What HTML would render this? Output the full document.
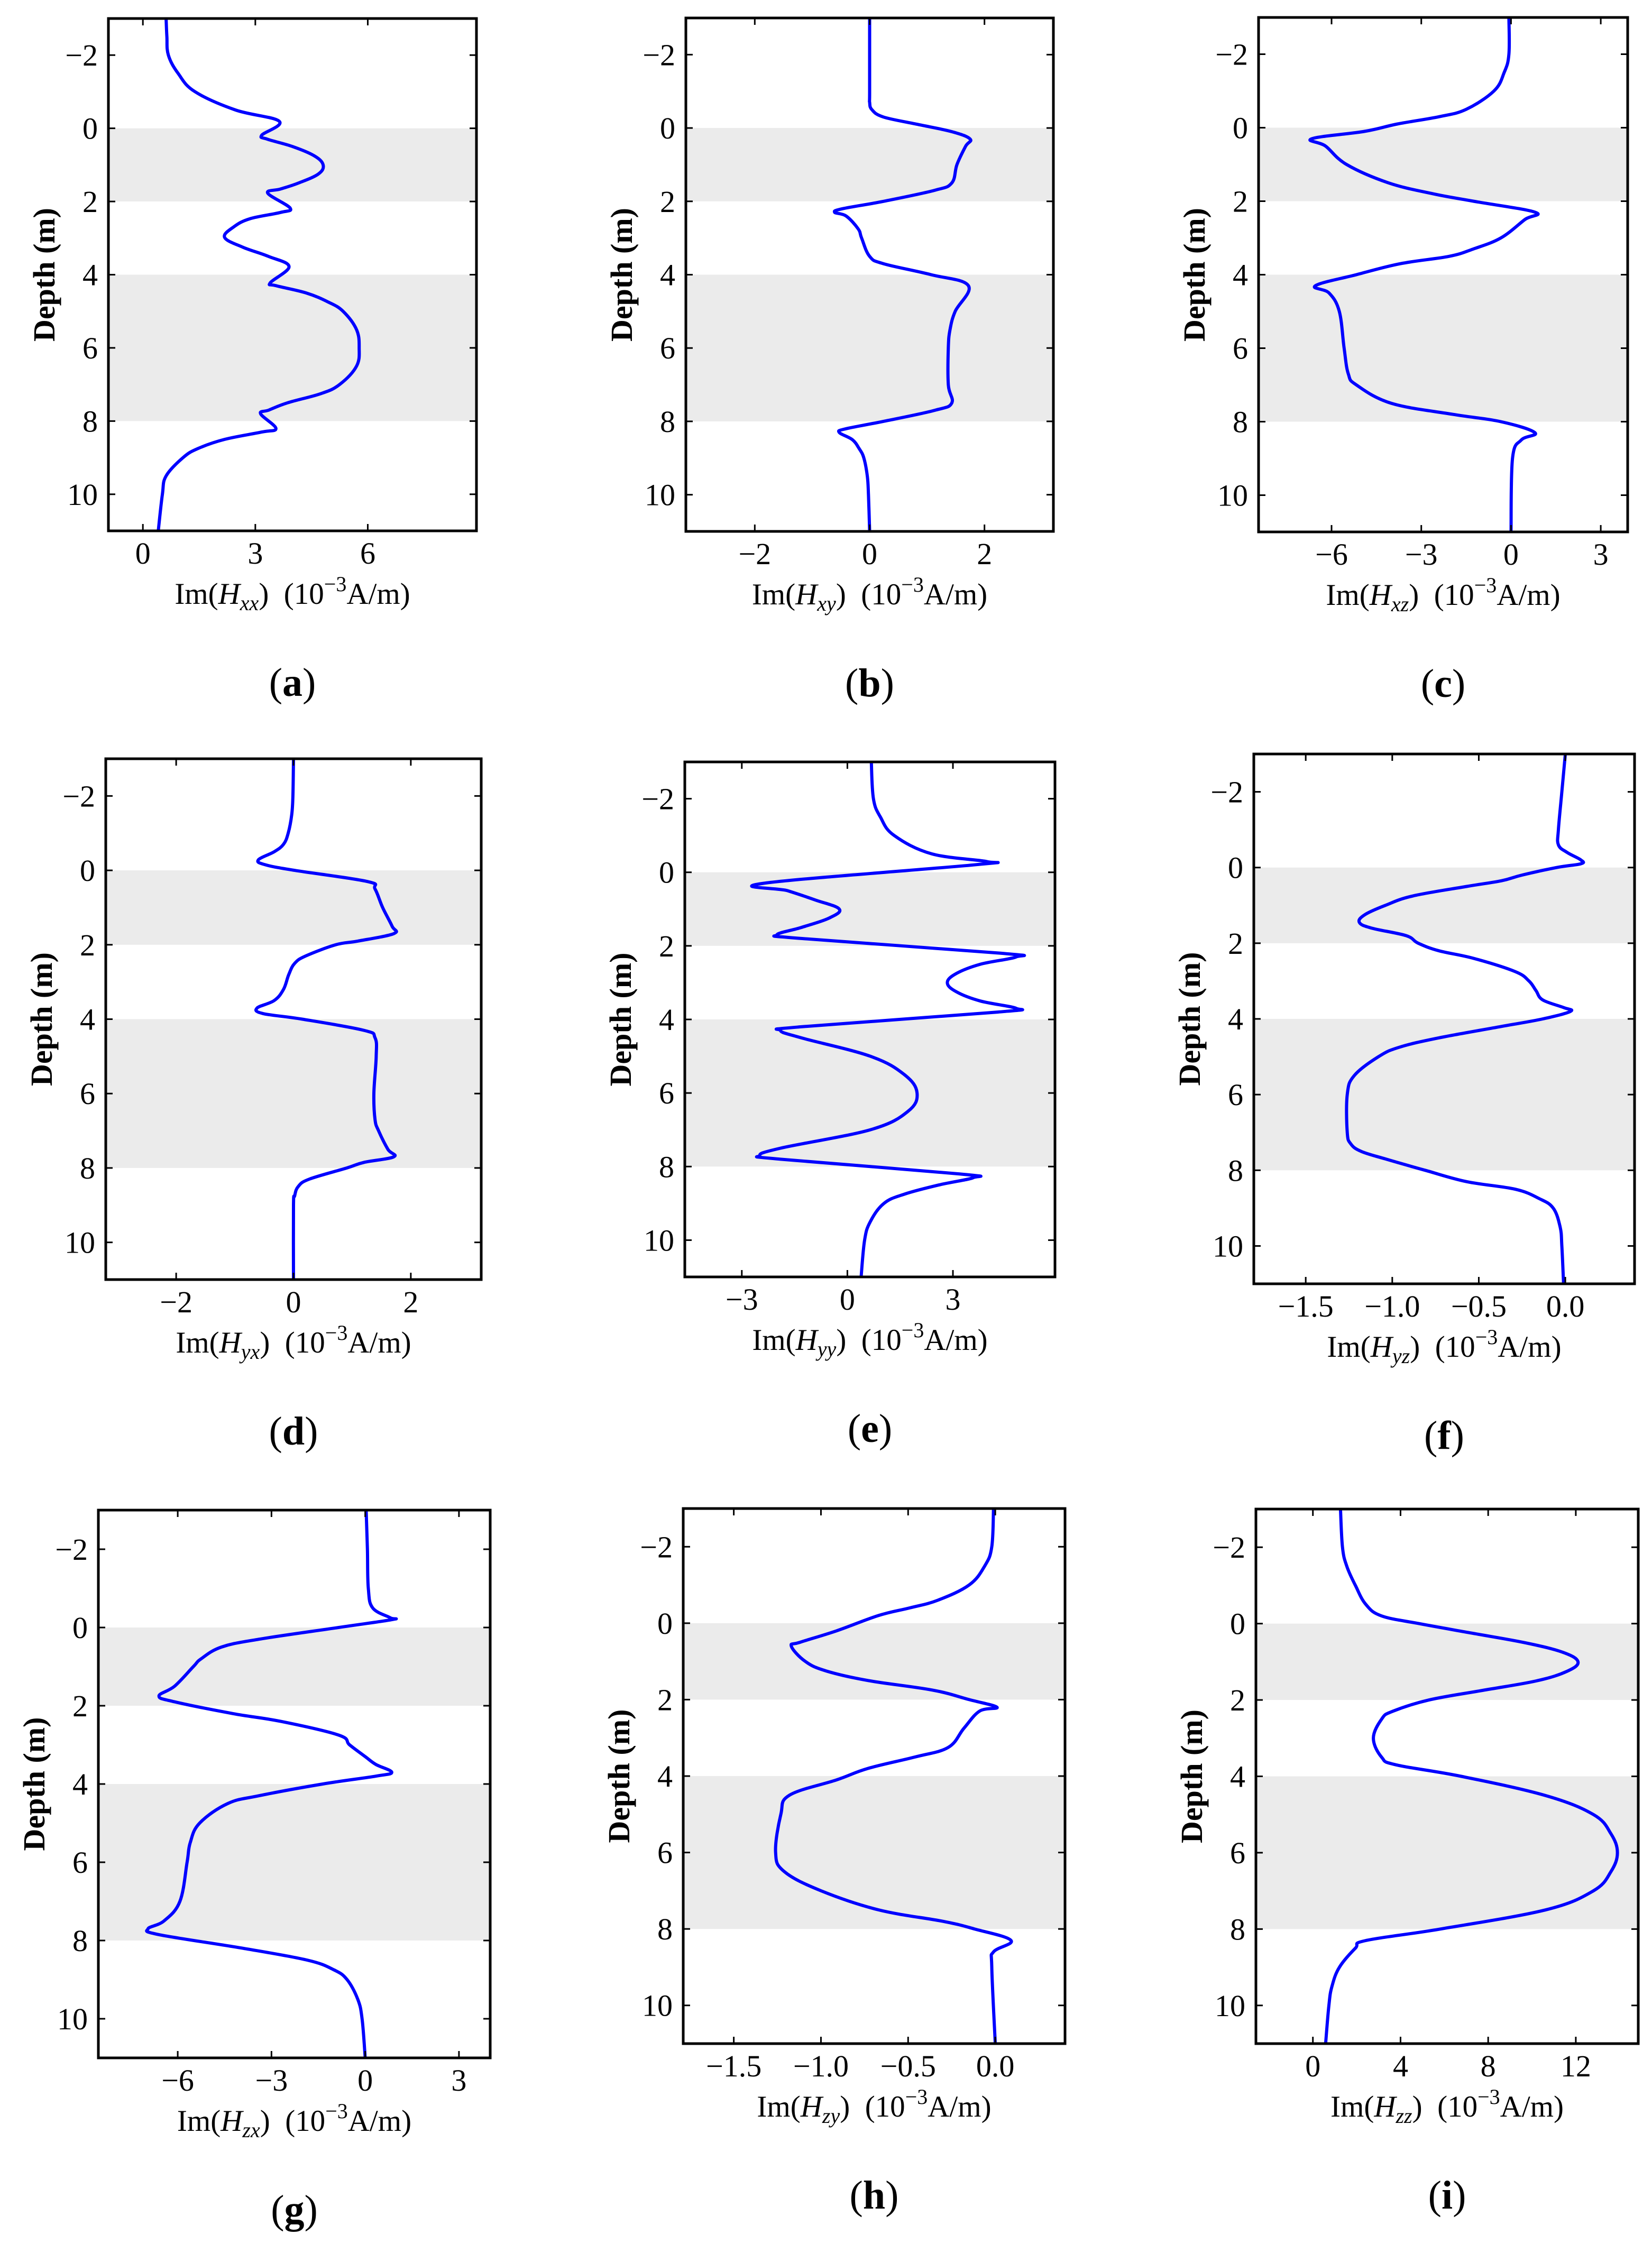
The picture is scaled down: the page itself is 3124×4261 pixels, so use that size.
<!DOCTYPE html>
<html>
<head>
<meta charset="utf-8">
<style>
html,body{margin:0;padding:0;background:#fff;}
svg{display:block;}
text{font-family:"Liberation Serif",serif;fill:#000;}
</style>
</head>
<body>
<svg id="fig" xmlns="http://www.w3.org/2000/svg" width="3124" height="4261" viewBox="0 0 3124 4261"></svg>
<script>
// ---- data (depth in m, values in 1e-3 A/m) ----
const yTicks = [-2, 0, 2, 4, 6, 8, 10];
const bandStarts = [0, 4];
const bandEnds = [2, 8];

const depthA = [-3,-2.5,-2,-1.5,-1,-0.5,-0.19,0.19,0.3,0.5,0.75,1,1.25,1.5,1.66,1.77,2.18,2.3,2.47,2.69,2.98,3.25,3.5,3.78,4.22,4.3,4.5,4.75,5,5.5,6,6.5,7,7.25,7.5,7.7,7.8,8.2,8.3,8.5,8.75,9,9.5,10,11];
const valA = [0.62,0.64,0.68,0.94,1.39,2.47,3.64,3.17,3.33,4.0,4.57,4.81,4.68,4.14,3.67,3.33,3.93,3.67,2.86,2.43,2.18,2.67,3.35,3.9,3.4,3.55,4.36,4.95,5.34,5.7,5.77,5.7,5.25,4.75,3.86,3.36,3.14,3.55,3.17,2.18,1.47,1.07,0.62,0.52,0.41];
const xTicksA = [0, 3, 6];

const depthB = [-3,-1,-0.7,-0.5,-0.3,-0.1,0.1,0.3,0.5,1,1.5,1.7,2,2.2,2.3,2.4,2.75,3,3.5,3.7,4,4.3,5,5.5,6,7,7.5,7.7,8,8.2,8.3,8.5,8.75,9,9.5,10,11];
const valB = [0,0,0,0.04,0.24,0.83,1.43,1.75,1.67,1.52,1.43,1.13,0.24,-0.47,-0.61,-0.41,-0.2,-0.14,0,0.24,1.07,1.72,1.49,1.4,1.37,1.37,1.43,1.13,0.24,-0.41,-0.53,-0.3,-0.18,-0.1,-0.04,-0.02,0];
const xTicksB = [-2, 0, 2];

const depthC = [-3,-2,-1.5,-1,-0.5,-0.3,-0.1,0.1,0.3,0.5,1,1.5,1.8,2,2.3,2.5,3,3.3,3.5,3.7,4,4.3,4.5,5,6,6.7,7,7.5,7.8,8,8.3,8.5,9,11];
const valC = [-0.07,-0.07,-0.23,-0.57,-1.5,-2.4,-3.8,-4.9,-6.66,-6.2,-5.5,-4.1,-2.6,-1.26,0.8,0.46,-0.34,-1.26,-2.07,-3.7,-5.17,-6.54,-6.08,-5.74,-5.58,-5.44,-5.17,-4.0,-1.95,-0.34,0.8,0.34,0.05,0];
const xTicksC = [-6, -3, 0, 3];

const depthD = [-3,-2,-1.5,-1,-0.7,-0.5,-0.28,-0.15,0,0.3,0.5,1,1.5,1.7,1.9,2,2.3,2.5,2.8,3.2,3.5,3.7,3.85,4,4.3,4.5,5,6,6.7,7,7.5,7.7,7.85,8,8.3,8.5,8.75,9,11];
const valD = [0,-0.01,-0.03,-0.09,-0.17,-0.33,-0.6,-0.48,0.02,1.26,1.39,1.52,1.68,1.71,1.1,0.72,0.21,0.02,-0.08,-0.17,-0.33,-0.62,-0.52,0.15,1.2,1.39,1.41,1.37,1.39,1.45,1.61,1.71,1.2,0.91,0.27,0.08,0.02,0,0];
const xTicksD = [-2, 0, 2];

const depthE = [-3,-2,-1.5,-1,-0.5,-0.29,-0.2,0.3,0.5,0.75,1,1.25,1.5,1.7,1.8,2.2,2.3,2.5,2.75,3,3.25,3.5,3.7,3.8,4.2,4.3,4.5,5,5.5,6,6.5,7,7.5,7.7,7.8,8.2,8.3,8.5,8.75,9,9.5,10,11];
const valE = [0.68,0.74,0.94,1.33,2.4,3.97,3.58,-2.39,-1.7,-0.92,-0.23,-0.53,-1.31,-2.0,-1.31,4.36,4.8,3.78,3.1,2.84,3.1,3.78,4.8,4.27,-1.31,-1.9,-1.31,0.65,1.62,1.98,1.72,0.65,-1.9,-2.49,-1.9,3.19,3.58,2.6,1.62,1.04,0.65,0.49,0.39];
const xTicksE = [-3, 0, 3];

const depthF = [-3,-2,-1,-0.6,-0.4,-0.2,-0.1,0,0.2,0.35,0.5,0.75,1,1.25,1.45,1.6,1.8,2,2.2,2.4,2.75,3,3.25,3.5,3.7,3.8,4,4.2,4.5,4.75,5,5.5,6,7,7.3,7.5,7.7,8,8.3,8.5,8.75,9,9.5,10,11];
const valF = [0,-0.02,-0.04,-0.04,0.01,0.09,0.09,-0.05,-0.25,-0.37,-0.57,-0.88,-1.04,-1.16,-1.19,-1.12,-0.92,-0.85,-0.73,-0.53,-0.29,-0.21,-0.17,-0.13,-0.01,0.03,-0.13,-0.37,-0.73,-0.96,-1.08,-1.22,-1.26,-1.26,-1.24,-1.18,-1.04,-0.81,-0.57,-0.29,-0.15,-0.07,-0.03,-0.02,-0.01];
const xTicksF = [-1.5, -1.0, -0.5, 0.0];

const depthG = [-3,-2,-1,-0.5,-0.25,-0.2,0,0.3,0.5,0.8,1,1.5,1.75,1.9,2.2,2.4,2.75,3,3.3,3.5,3.7,3.8,4,4.3,4.5,5,5.5,6,7,7.5,7.7,7.85,8.2,8.5,8.75,9,9.5,10,11];
const valG = [0.03,0.07,0.1,0.24,0.8,0.85,-0.85,-3.4,-4.6,-5.25,-5.5,-6.1,-6.6,-6.1,-4.24,-2.7,-0.85,-0.5,0,0.34,0.85,0.34,-1.36,-3.4,-4.4,-5.3,-5.6,-5.7,-5.93,-6.44,-6.95,-6.6,-3.9,-1.86,-1.0,-0.58,-0.24,-0.1,0];
const xTicksG = [-6, -3, 0, 3];

const depthH = [-3,-2,-1.5,-1,-0.6,-0.4,-0.2,0.2,0.5,0.6,1,1.25,1.5,1.75,2,2.2,2.3,2.75,3.25,3.5,3.8,4.1,4.5,5,6,6.5,7,7.5,7.8,8,8.3,8.6,9,11];
const valH = [-0.01,-0.02,-0.06,-0.15,-0.33,-0.49,-0.67,-0.91,-1.12,-1.17,-1.09,-0.97,-0.73,-0.36,-0.15,0.01,-0.09,-0.18,-0.27,-0.46,-0.73,-0.91,-1.18,-1.23,-1.26,-1.21,-1.0,-0.67,-0.3,-0.12,0.09,-0.01,-0.02,0];
const xTicksH = [-1.5, -1.0, -0.5, 0.0];

const depthI = [-3,-2,-1.5,-1,-0.5,-0.2,0,0.25,0.5,0.75,1,1.25,1.5,1.75,2,2.3,2.5,3,3.5,3.7,4,4.5,5,5.5,6,6.5,7,7.5,8,8.3,8.5,9,9.5,10,11];
const valI = [1.26,1.35,1.55,1.94,2.42,3.14,4.84,7.26,9.68,11.4,12.1,11.6,10.2,7.74,5.3,3.63,3.14,2.76,3.14,3.8,6.77,10.6,12.8,13.6,13.9,13.6,12.8,10.6,5.8,2.42,1.94,1.21,0.87,0.73,0.58];
const xTicksI = [0, 4, 8, 12];

// ---- layout ----
const NS = "http://www.w3.org/2000/svg";
const svg = document.getElementById('fig');
function mk(tag, attrs, parent) {
  const e = document.createElementNS(NS, tag);
  for (const k in attrs) e.setAttribute(k, attrs[k]);
  (parent || svg).appendChild(e);
  return e;
}
const panels = [
  {id:'a', sub:'xx', L:205, R:901, T:35, B:1004, xmin:-0.92, xmax:8.9, d:depthA, v:valA, ticks:xTicksA, fmt:0},
  {id:'b', sub:'xy', L:1297, R:1992, T:34, B:1005, xmin:-3.2, xmax:3.2, d:depthB, v:valB, ticks:xTicksB, fmt:0},
  {id:'c', sub:'xz', L:2380, R:3078, T:33, B:1006, xmin:-8.44, xmax:3.9, d:depthC, v:valC, ticks:xTicksC, fmt:0},
  {id:'d', sub:'yx', L:200, R:910, T:1435, B:2420, xmin:-3.2, xmax:3.2, d:depthD, v:valD, ticks:xTicksD, fmt:0},
  {id:'e', sub:'yy', L:1295, R:1995, T:1441, B:2415, xmin:-4.62, xmax:5.9, d:depthE, v:valE, ticks:xTicksE, fmt:0},
  {id:'f', sub:'yz', L:2371, R:3091, T:1426, B:2428, xmin:-1.8, xmax:0.4, d:depthF, v:valF, ticks:xTicksF, fmt:1},
  {id:'g', sub:'zx', L:186, R:927, T:2856, B:3892, xmin:-8.54, xmax:4.0, d:depthG, v:valG, ticks:xTicksG, fmt:0},
  {id:'h', sub:'zy', L:1292, R:2014, T:2853, B:3865, xmin:-1.79, xmax:0.4, d:depthH, v:valH, ticks:xTicksH, fmt:1},
  {id:'i', sub:'zz', L:2375, R:3098, T:2854, B:3865, xmin:-2.6, xmax:14.85, d:depthI, v:valI, ticks:xTicksI, fmt:0}
];
const YMIN = -3, YMAX = 11;
function fmtNum(t, f) {
  const s = f ? t.toFixed(f) : String(t);
  return s.replace('-', '\u2212');
}
function smoothPath(P) {
  let d = 'M' + P[0][0].toFixed(1) + ',' + P[0][1].toFixed(1);
  const t = 0.18;
  for (let i = 0; i < P.length - 1; i++) {
    const p0 = P[Math.max(i - 1, 0)], p1 = P[i], p2 = P[i + 1], p3 = P[Math.min(i + 2, P.length - 1)];
    const c1x = p1[0] + (p2[0] - p0[0]) * t, c1y = p1[1] + (p2[1] - p0[1]) * t;
    const c2x = p2[0] - (p3[0] - p1[0]) * t, c2y = p2[1] - (p3[1] - p1[1]) * t;
    d += ' C' + c1x.toFixed(1) + ',' + c1y.toFixed(1) + ' ' + c2x.toFixed(1) + ',' + c2y.toFixed(1) + ' ' + p2[0].toFixed(1) + ',' + p2[1].toFixed(1);
  }
  return d;
}
panels.forEach(p => {
  const g = mk('g', {});
  
  
  const xs = v => p.L + (v - p.xmin) / (p.xmax - p.xmin) * (p.R - p.L);
  const ys = d => p.T + (d - YMIN) / (YMAX - YMIN) * (p.B - p.T);
  bandStarts.forEach((s, k) => {
    const r = mk('rect', {x:p.L, y:ys(s), width:p.R - p.L, height:ys(bandEnds[k]) - ys(s), fill:'#ebebeb'}, g);
    
    
  });
  const P = p.d.map((d, k) => [xs(p.v[k]), ys(d)]);
  const line = mk('path', {d:smoothPath(P), fill:'none', stroke:'#0000ff', 'stroke-width':6, 'stroke-linejoin':'round'}, g);
  
  
  yTicks.forEach(t => {
    const y = ys(t);
    mk('line', {x1:p.L, x2:p.L + 13, y1:y, y2:y, stroke:'#000', 'stroke-width':3}, g);
    mk('line', {x1:p.R, x2:p.R - 13, y1:y, y2:y, stroke:'#000', 'stroke-width':3}, g);
    const tx = mk('text', {x:p.L - 20, y:y + 20, 'font-size':58, 'text-anchor':'end'}, g);
    tx.textContent = fmtNum(t, 0);
    
    
  });
  p.ticks.forEach(t => {
    const x = xs(t);
    mk('line', {x1:x, x2:x, y1:p.B, y2:p.B - 13, stroke:'#000', 'stroke-width':3}, g);
    mk('line', {x1:x, x2:x, y1:p.T, y2:p.T + 13, stroke:'#000', 'stroke-width':3}, g);
    const tx = mk('text', {x:x, y:p.B + 62, 'font-size':58, 'text-anchor':'middle'}, g);
    tx.textContent = fmtNum(t, p.fmt);
    
    
  });
  const fr = mk('rect', {x:p.L, y:p.T, width:p.R - p.L, height:p.B - p.T, fill:'none', stroke:'#000', 'stroke-width':5}, g);
  
  
  const cy = (p.T + p.B) / 2;
  const yl = mk('text', {x:0, y:0, 'font-size':58, 'font-weight':'bold', 'text-anchor':'middle', transform:'translate(' + (p.L - 102) + ',' + cy + ') rotate(-90)'}, g);
  yl.textContent = 'Depth  (m)';
  
  
  const cx = (p.L + p.R) / 2;
  const xl = mk('text', {x:cx, y:p.B + 138, 'font-size':57, 'text-anchor':'middle'}, g);
  
  
  xl.appendChild(document.createTextNode('Im('));
  const h = mk('tspan', {'font-style':'italic'}, xl); h.textContent = 'H';
  const s = mk('tspan', {'font-style':'italic', 'font-size':40, dy:12}, xl); s.textContent = p.sub;
  const c = mk('tspan', {dy:-12}, xl); c.textContent = ')\u00a0\u00a0(10';
  const e = mk('tspan', {'font-size':40, dy:-24}, xl); e.textContent = '\u22123';
  const u = mk('tspan', {dy:24}, xl); u.textContent = 'A/m)';
  const pl = mk('text', {x:cx, y:p.B + 312, 'font-size':76, 'text-anchor':'middle'}, g);
  
  
  pl.appendChild(document.createTextNode('('));
  const b = mk('tspan', {'font-weight':'bold'}, pl); b.textContent = p.id;
  pl.appendChild(document.createTextNode(')'));
});
</script>
</body>
</html>
